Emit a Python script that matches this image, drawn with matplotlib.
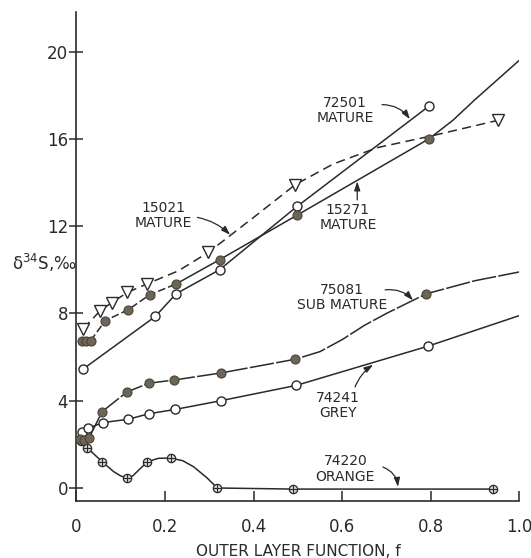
import numpy as np
import matplotlib
matplotlib.use("Agg")
import matplotlib.pyplot as plt

# --- data ---
# 72501 MATURE (open circles, straight solid line)
f_72501 = [0.015, 0.178, 0.225, 0.323, 0.498, 0.796]
d_72501 = [5.45, 7.86, 8.9, 10.0, 12.9, 17.5]

# 15271 MATURE (filled circles)
f_15271 = [0.012, 0.022, 0.032, 0.065, 0.117, 0.165, 0.225, 0.323, 0.498, 0.796]
d_15271 = [6.72, 6.75, 6.75, 7.67, 8.17, 8.85, 9.35, 10.46, 12.5, 16.0]
f_15271_ext = [0.796, 0.85, 0.9, 0.95, 1.0]
d_15271_ext = [16.0, 16.85, 17.8, 18.7, 19.6]

# 15021 MATURE (open triangles, dashed)
f_15021 = [0.015, 0.054, 0.08, 0.115, 0.16, 0.298, 0.494, 0.952]
d_15021 = [7.3, 8.13, 8.5, 8.96, 9.36, 10.8, 13.9, 16.85]
f_15021_line = [0.015, 0.054, 0.08, 0.115, 0.16, 0.23, 0.298, 0.4, 0.494, 0.58, 0.68, 0.805, 0.952]
d_15021_line = [7.3, 8.13, 8.5, 8.96, 9.36, 9.95, 10.8, 12.4, 13.9, 14.85, 15.6, 16.15, 16.85]

# 75081 SUB MATURE (filled circles)
f_75081 = [0.008, 0.018, 0.028, 0.058, 0.114, 0.163, 0.221, 0.326, 0.494, 0.79]
d_75081 = [2.25, 2.2, 2.28, 3.5, 4.4, 4.8, 4.95, 5.27, 5.9, 8.9]
f_75081_line = [0.028, 0.058, 0.114, 0.163, 0.221, 0.326, 0.494, 0.55, 0.6, 0.65, 0.7, 0.79, 0.9, 1.0]
d_75081_line = [2.28, 3.5, 4.4, 4.8, 4.95, 5.27, 5.9, 6.25, 6.8, 7.45, 8.0, 8.9, 9.5, 9.9]

# 74241 GREY (open circles)
f_74241 = [0.013, 0.027, 0.061, 0.117, 0.163, 0.223, 0.326, 0.496, 0.794]
d_74241 = [2.58, 2.75, 3.0, 3.15, 3.4, 3.6, 4.0, 4.7, 6.5]
f_74241_line = f_74241 + [1.0]
d_74241_line = d_74241 + [7.9]

# 74220 ORANGE (crossed circles)
f_74220 = [0.01, 0.024, 0.058, 0.114, 0.16, 0.213, 0.318, 0.49, 0.94]
d_74220 = [2.15, 1.85, 1.2, 0.48, 1.2, 1.37, 0.0, -0.05, -0.05]
f_74220_line = [0.01, 0.024, 0.058, 0.084, 0.1, 0.114, 0.127, 0.137, 0.16, 0.185,
                0.213, 0.24, 0.264, 0.295, 0.318, 0.49, 0.94]
d_74220_line = [2.15, 1.85, 1.2, 0.75, 0.55, 0.48, 0.55, 0.75, 1.2, 1.36,
                1.37, 1.25, 0.98, 0.46, 0.0, -0.05, -0.05]

x_ticks = [0, 0.2, 0.4, 0.6, 0.8, 1.0]
x_ticklabels = ["0", "0.2", "0.4", "0.6", "0.8", "1.0"]
y_ticks = [0, 4, 8, 12, 16, 20]

ink = "#2a2a2a"
fill = "#6d6556"
lw = 1.1

fig = plt.figure(figsize=(5.31, 5.58), dpi=100)
ax = fig.add_axes([0.144, 0.102, 0.834, 0.876])

# lines
ax.plot(f_72501, d_72501, color=ink, lw=lw, zorder=2)
ax.plot(f_15271[2:7], d_15271[2:7], color=ink, lw=lw, dashes=(5, 2), zorder=2)
ax.plot(f_15271[6:], d_15271[6:], color=ink, lw=lw, zorder=2)
ax.plot(f_15271_ext, d_15271_ext, color=ink, lw=lw, zorder=2)
ax.plot(f_15021_line, d_15021_line, color=ink, lw=lw, dashes=(6, 3.5), zorder=2)
ax.plot(f_75081_line, d_75081_line, color=ink, lw=lw, dashes=(16, 1.5), zorder=2)
ax.plot(f_74241_line, d_74241_line, color=ink, lw=lw, zorder=2)
ax.plot(f_74220_line, d_74220_line, color=ink, lw=lw, zorder=2)

# markers
ax.plot(f_72501, d_72501, ls="none", marker="o", ms=6.5, mfc="white", mec=ink, mew=1.0, zorder=4)
ax.plot(f_74241, d_74241, ls="none", marker="o", ms=6.5, mfc="white", mec=ink, mew=1.0, zorder=4)
ax.plot(f_15021, d_15021, ls="none", marker="v", ms=8.5, mfc="white", mec=ink, mew=1.0, zorder=4)
ax.plot(f_74220, d_74220, ls="none", marker="o", ms=6, mfc="#d8d4cc", mec=ink, mew=0.9, zorder=3)
ax.plot(f_74220, d_74220, ls="none", marker="+", ms=6, mec=ink, mew=0.8, zorder=3)
ax.plot(f_15271, d_15271, ls="none", marker="o", ms=6.5, mfc=fill, mec="#4a4438", mew=0.8, zorder=5)
ax.plot(f_75081, d_75081, ls="none", marker="o", ms=6.5, mfc=fill, mec="#4a4438", mew=0.8, zorder=5)

# labels and arrows
labels = [
    ("72501\nMATURE", 0.607, 17.3, (0.69, 17.57), (0.753, 16.9), -0.25),
    ("15271\nMATURE", 0.613, 12.4, (0.634, 13.2), (0.634, 14.05), 0.0),
    ("15021\nMATURE", 0.196, 12.5, (0.273, 12.4), (0.347, 11.6), -0.15),
    ("75081\nSUB MATURE", 0.60, 8.74, (0.697, 9.08), (0.76, 8.6), -0.25),
    ("74241\nGREY", 0.59, 3.8, (0.629, 4.63), (0.67, 5.65), -0.15),
    ("74220\nORANGE", 0.607, 0.87, (0.692, 0.96), (0.726, 0.05), -0.3),
]
for txt, tx, ty, start, end, rad in labels:
    ax.text(tx, ty, txt, ha="center", va="center", fontsize=10,
            color=ink, linespacing=1.1, zorder=6)
    ax.annotate("", xy=end, xytext=start,
                arrowprops=dict(arrowstyle="-|>,head_length=0.6,head_width=0.2",
                                color=ink, lw=0.9,
                                mutation_scale=9, shrinkA=0, shrinkB=0,
                                connectionstyle="arc3,rad=%g" % rad),
                zorder=6)

ax.set_xlim(0, 1.0)
ax.set_ylim(-0.6, 21.8)
ax.set_xticks(x_ticks)
ax.set_xticklabels(x_ticklabels)
ax.set_yticks(y_ticks)
ax.spines["top"].set_visible(False)
ax.spines["right"].set_visible(False)
for s in ("left", "bottom"):
    ax.spines[s].set_color(ink)
    ax.spines[s].set_linewidth(1.2)
ax.tick_params(axis="x", direction="in", length=7, width=1.1, pad=12,
               labelsize=12, colors=ink)
ax.tick_params(axis="y", direction="inout", length=10, width=1.1, pad=1,
               labelsize=12, colors=ink)

ax.set_xlabel("OUTER LAYER FUNCTION, f", fontsize=11, color=ink, labelpad=6)
fig.text(0.145, 1 - 263 / 558, "δ$^{34}$S,‰", ha="right", va="center",
         fontsize=12, color=ink)

fig.savefig("out.png", dpi=100)
